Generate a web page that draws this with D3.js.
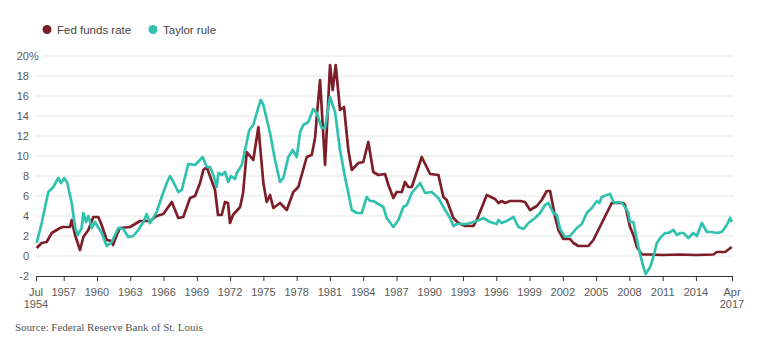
<!DOCTYPE html>
<html lang="en">
<head>
  <meta charset="UTF-8">
  <title>Fed funds rate vs Taylor rule</title>
  <script src="https://d3js.org/d3.v7.min.js"></script>
  <style>
    body {
      margin: 0;
      background: #fff;
      font-family: "Liberation Sans", Arial, sans-serif;
    }
    svg {
      display: block;
    }
    .tick-label {
      font-size: 11px;
      fill: #5a5a5a;
    }
    .legend text {
      font-size: 11.5px;
      fill: #444;
    }
    .source {
      font-family: "Liberation Serif", "Times New Roman", serif;
      font-size: 11px;
      fill: #555;
    }
  </style>
</head>
<body>
<svg width="768" height="353"></svg>

<script>
// Fed funds rate, decimal years
const fedYears = [1954.56, 1955.01, 1955.46, 1955.92, 1956.66, 1956.93, 1957.57, 1957.72, 1958.02, 1958.47,
  1958.77, 1959.22, 1959.67, 1960.12, 1960.42, 1960.88, 1961.33, 1961.44, 1961.78, 1962.07,
  1962.98, 1963.88, 1964.78, 1965.38, 1965.98, 1966.74, 1967.33, 1967.78, 1968.39, 1968.84,
  1969.29, 1969.59, 1969.89, 1970.64, 1970.91, 1971.24, 1971.54, 1971.81, 1971.99, 1972.26,
  1972.90, 1973.17, 1973.50, 1974.09, 1974.55, 1975.00, 1975.30, 1975.60, 1975.90, 1976.50,
  1977.11, 1977.70, 1978.15, 1978.91, 1979.36, 1979.66, 1979.81, 1980.11, 1980.56, 1981.01,
  1981.25, 1981.52, 1981.91, 1982.27, 1982.66, 1982.97, 1983.56, 1984.01, 1984.46, 1984.91,
  1985.37, 1985.97, 1986.27, 1986.72, 1987.02, 1987.48, 1987.77, 1988.07, 1988.38, 1989.28,
  1990.03, 1990.78, 1991.23, 1991.53, 1992.13, 1992.58, 1993.18, 1993.93, 1994.24, 1995.14,
  1995.89, 1996.19, 1996.49, 1996.79, 1997.24, 1998.14, 1998.59, 1999.04, 1999.65, 2000.10,
  2000.55, 2000.85, 2001.30, 2001.60, 2002.05, 2002.65, 2002.95, 2003.40, 2004.30, 2004.75,
  2006.41, 2007.46, 2007.61, 2008.06, 2008.36, 2008.67, 2009.12, 2009.87, 2011.0, 2012.5,
  2014.0, 2015.57, 2015.88, 2016.63, 2017.23];
const fedValues = [0.8, 1.3, 1.4, 2.3, 2.8, 2.9, 2.9, 3.6, 2.1, 0.6,
  1.9, 2.6, 3.9, 3.9, 3.1, 1.6, 1.5, 1.1, 2.1, 2.8,
  2.9, 3.5, 3.5, 4.0, 4.2, 5.4, 3.8, 3.9, 5.8, 6.0,
  7.3, 8.6, 8.9, 6.6, 4.1, 4.1, 5.4, 5.3, 3.3, 4.1,
  4.9, 6.3, 10.4, 9.6, 12.9, 7.3, 5.4, 6.1, 4.8, 5.3,
  4.6, 6.4, 6.9, 9.9, 10.1, 11.8, 13.9, 17.6, 9.1, 19.1,
  16.6, 19.1, 14.6, 14.9, 10.6, 8.6, 9.3, 9.4, 11.4, 8.4,
  8.1, 8.2, 7.1, 5.8, 6.4, 6.4, 7.4, 6.9, 6.9, 9.9,
  8.2, 8.1, 5.9, 5.6, 3.8, 3.3, 3.0, 3.0, 3.6, 6.1,
  5.7, 5.3, 5.5, 5.3, 5.5, 5.5, 5.4, 4.6, 5.0, 5.6,
  6.5, 6.5, 3.9, 2.6, 1.7, 1.7, 1.3, 1.0, 1.0, 1.6,
  5.3, 5.3, 5.1, 2.9, 2.1, 0.9, 0.15, 0.15, 0.1, 0.15,
  0.1, 0.15, 0.4, 0.4, 0.9];

// Taylor rule, decimal years
const taylorYears = [1954.56, 1955.01, 1955.61, 1956.06, 1956.51, 1956.75, 1957.05, 1957.32, 1957.72, 1958.02,
  1958.26, 1958.62, 1958.77, 1959.01, 1959.22, 1959.52, 1959.82, 1960.42, 1960.88, 1961.33,
  1961.92, 1962.37, 1962.82, 1963.27, 1963.72, 1964.18, 1964.48, 1964.78, 1965.38, 1965.83,
  1966.29, 1966.58, 1966.88, 1967.33, 1967.64, 1968.23, 1968.84, 1969.53, 1969.89, 1970.19,
  1970.49, 1970.79, 1970.94, 1971.24, 1971.54, 1971.84, 1972.06, 1972.44, 1972.60, 1973.05,
  1973.35, 1973.73, 1974.09, 1974.40, 1974.76, 1975.00, 1975.60, 1976.05, 1976.50, 1976.80,
  1977.25, 1977.65, 1978.01, 1978.31, 1978.60, 1979.05, 1979.50, 1979.81, 1980.26, 1980.56,
  1981.01, 1981.46, 1981.91, 1982.36, 1982.97, 1983.42, 1983.87, 1984.32, 1984.62, 1984.91,
  1985.52, 1985.82, 1986.12, 1986.72, 1987.17, 1987.62, 1987.93, 1988.38, 1989.13, 1989.58,
  1990.18, 1990.78, 1991.23, 1991.83, 1992.13, 1992.44, 1993.34, 1994.24, 1994.83, 1995.44,
  1996.04, 1996.19, 1996.49, 1996.94, 1997.54, 1997.99, 1998.45, 1998.90, 1999.50, 1999.95,
  2000.40, 2000.69, 2001.15, 2001.45, 2001.75, 2002.20, 2002.65, 2003.26, 2003.71, 2004.16,
  2004.61, 2005.06, 2005.29, 2005.51, 2005.96, 2006.26, 2006.56, 2006.86, 2007.00, 2007.31,
  2007.61, 2007.91, 2008.06, 2008.36, 2008.81, 2009.26, 2009.47, 2009.87, 2010.16, 2010.47,
  2010.77, 2011.22, 2011.52, 2011.97, 2012.27, 2012.57, 2012.87, 2013.32, 2013.77, 2014.08,
  2014.53, 2014.98, 2015.43, 2015.88, 2016.33, 2016.78, 2017.08, 2017.23];
const taylorValues = [1.3, 3.3, 6.4, 6.9, 7.8, 7.3, 7.8, 7.3, 5.3, 2.9,
  2.1, 2.8, 4.3, 3.4, 4.0, 2.8, 3.4, 2.3, 1.0, 1.4,
  2.8, 2.7, 1.9, 2.0, 2.6, 3.4, 4.2, 3.3, 4.4, 5.9,
  7.3, 8.0, 7.4, 6.4, 6.6, 9.2, 9.1, 9.9, 8.9, 8.9,
  8.1, 6.9, 8.3, 8.1, 8.4, 7.4, 8.0, 7.7, 8.3, 9.1,
  10.6, 12.6, 13.1, 14.3, 15.6, 15.1, 12.3, 9.6, 7.4, 7.8,
  9.9, 10.6, 9.9, 12.4, 13.1, 13.4, 14.7, 14.3, 12.8, 12.8,
  15.9, 14.4, 10.6, 7.9, 4.6, 4.3, 4.3, 5.9, 5.5, 5.5,
  5.1, 4.9, 3.8, 2.9, 3.6, 4.9, 5.1, 6.3, 7.3, 6.3,
  6.4, 5.8, 4.9, 3.8, 3.0, 3.2, 3.2, 3.5, 3.8, 3.4,
  3.2, 3.6, 3.3, 3.5, 3.9, 2.9, 2.7, 3.3, 3.8, 4.3,
  5.1, 5.3, 4.3, 4.1, 2.7, 1.9, 2.0, 2.8, 3.2, 4.3,
  4.8, 5.5, 5.3, 5.9, 6.1, 6.2, 5.4, 5.3, 5.4, 5.3,
  4.9, 4.3, 3.4, 3.4, 0.9, -1.1, -1.8, -1.1, -0.1, 1.3,
  1.8, 2.3, 2.3, 2.6, 2.1, 2.3, 2.3, 1.8, 2.3, 2.0,
  3.3, 2.4, 2.4, 2.3, 2.4, 3.1, 3.8, 3.4];

const yTicks = [-2, 0, 2, 4, 6, 8, 10, 12, 14, 16, 18, 20];
const xTicks = [1954.5, 1957, 1960, 1963, 1966, 1969, 1972, 1975, 1978, 1981, 1984,
  1987, 1990, 1993, 1996, 1999, 2002, 2005, 2008, 2011, 2014, 2017.25];
const xTickLabels = [["Jul", "1954"], ["1957"], ["1960"], ["1963"], ["1966"], ["1969"], ["1972"],
  ["1975"], ["1978"], ["1981"], ["1984"], ["1987"], ["1990"], ["1993"], ["1996"], ["1999"],
  ["2002"], ["2005"], ["2008"], ["2011"], ["2014"], ["Apr", "2017"]];

const seriesNames = ["Fed funds rate", "Taylor rule"];
const colors = ["#7c1f29", "#31c2af"];

const svg = d3.select("svg");

const x = d3.scaleLinear().domain([1954.5, 2017.25]).range([36, 732]);
const y = d3.scaleLinear().domain([-2, 20]).range([276, 56]);

// grid lines
svg.append("g")
  .selectAll("line")
  .data(yTicks.filter(d => d > -2))
  .enter().append("line")
  .attr("x1", d => d === 20 ? 42 : 36)
  .attr("x2", 734)
  .attr("y1", d => y(d))
  .attr("y2", d => y(d))
  .attr("stroke", "#e3e6e6")
  .attr("stroke-width", 1);

// y labels
const yLab = svg.append("g");
yLab.selectAll("text")
  .data(yTicks)
  .enter().append("text")
  .attr("class", "tick-label")
  .attr("x", 29)
  .attr("y", d => y(d))
  .attr("dy", "0.35em")
  .attr("text-anchor", "end")
  .text(d => d);
yLab.append("text")
  .attr("class", "tick-label")
  .attr("x", 29)
  .attr("y", y(20))
  .attr("dy", "0.35em")
  .text("%");

// x axis
const xAxis = svg.append("g")
  .attr("transform", `translate(0,${y(-2)})`)
  .call(d3.axisBottom(x).tickValues(xTicks).tickSize(5).tickSizeOuter(0).tickFormat(""));
xAxis.select(".domain").attr("stroke", "#333").attr("stroke-width", 1.2);
xAxis.selectAll(".tick line").attr("stroke", "#333");

const xLab = svg.append("g");
xTicks.forEach((t, i) => {
  const txt = xLab.append("text")
    .attr("class", "tick-label")
    .attr("text-anchor", "middle")
    .attr("x", x(t))
    .attr("y", 296);
  xTickLabels[i].forEach((s, j) => {
    txt.append("tspan").attr("x", x(t)).attr("dy", j === 0 ? 0 : 12).text(s);
  });
});

// lines
const line = d3.line()
  .x(d => x(d[0]))
  .y(d => y(d[1]));

const fedData = fedYears.map((d, i) => [d, fedValues[i]]);
const taylorData = taylorYears.map((d, i) => [d, taylorValues[i]]);

[fedData, taylorData].forEach((data, i) => {
  svg.append("path")
    .datum(data)
    .attr("fill", "none")
    .attr("stroke", colors[i])
    .attr("stroke-width", 2.7)
    .attr("stroke-linejoin", "round")
    .attr("d", line);
});

// legend
const legendX = [47, 153];
const legend = svg.append("g").attr("class", "legend");
seriesNames.forEach((name, i) => {
  legend.append("circle")
    .attr("cx", legendX[i])
    .attr("cy", 29.5)
    .attr("r", 4.5)
    .attr("fill", colors[i]);
  legend.append("text")
    .attr("x", legendX[i] + 10)
    .attr("y", 29.5)
    .attr("dy", "0.35em")
    .text(name);
});

svg.append("text")
  .attr("class", "source")
  .attr("x", 15)
  .attr("y", 331)
  .text("Source: Federal Reserve Bank of St. Louis");
</script>
</body>
</html>
